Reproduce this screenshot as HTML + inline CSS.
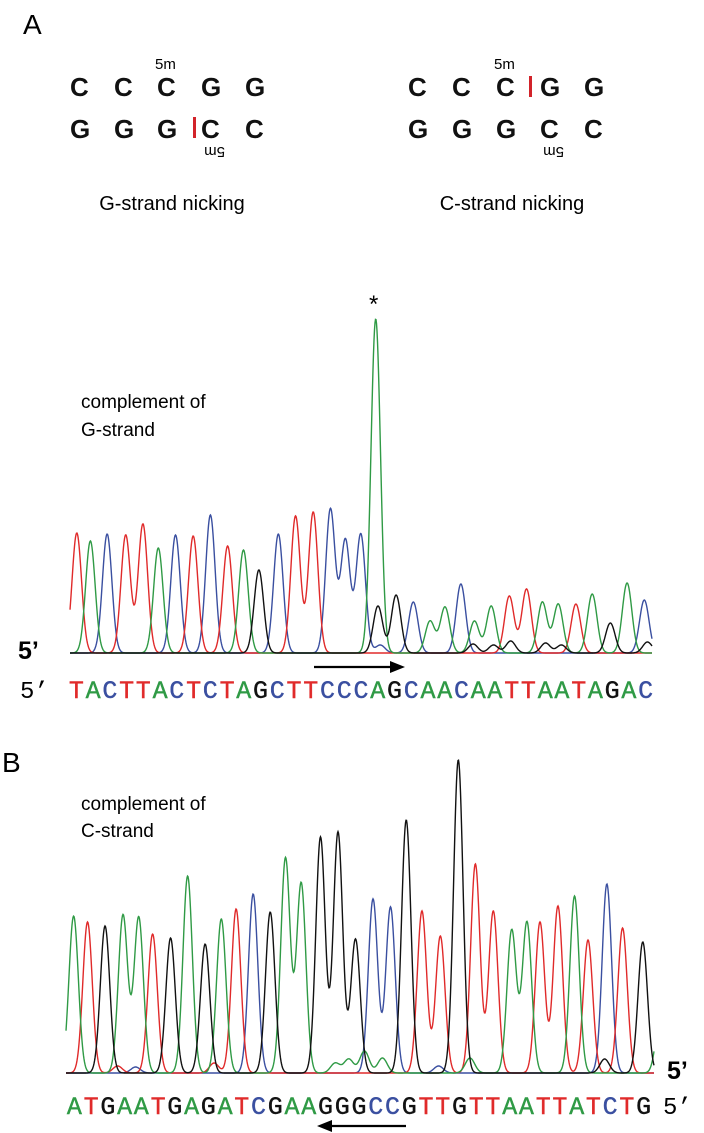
<!DOCTYPE html>
<html><head><meta charset="utf-8">
<style>
body{margin:0;background:#fff;}
svg{display:block;}
text{font-family:"Liberation Sans",sans-serif;}
.mono{font-family:"Liberation Mono",monospace;}
.nuc{font-family:"Liberation Sans",sans-serif;font-weight:bold;font-size:26px;fill:#111;}
</style></head>
<body>
<svg id="fig" width="704" height="1133" viewBox="0 0 704 1133">
  <text x="23" y="34" font-size="28">A</text>
  <g>
    <text x="155" y="69" font-size="15">5m</text>
    <text class="nuc" x="70" y="96">C</text><text class="nuc" x="114" y="96">C</text><text class="nuc" x="157" y="96">C</text><text class="nuc" x="201" y="96">G</text><text class="nuc" x="245" y="96">G</text>
    <text class="nuc" x="70" y="138">G</text><text class="nuc" x="114" y="138">G</text><text class="nuc" x="157" y="138">G</text><text class="nuc" x="201" y="138">C</text><text class="nuc" x="245" y="138">C</text>
    <rect x="193" y="117" width="3" height="21" fill="#d2232a"/>
    <text x="0" y="0" font-size="15" transform="translate(225,147) rotate(180)">5m</text>
    <text x="172" y="210" font-size="20" text-anchor="middle">G-strand nicking</text>
  </g>
  <g>
    <text x="494" y="69" font-size="15">5m</text>
    <text class="nuc" x="408" y="96">C</text><text class="nuc" x="452" y="96">C</text><text class="nuc" x="496" y="96">C</text><text class="nuc" x="540" y="96">G</text><text class="nuc" x="584" y="96">G</text>
    <text class="nuc" x="408" y="138">G</text><text class="nuc" x="452" y="138">G</text><text class="nuc" x="496" y="138">G</text><text class="nuc" x="540" y="138">C</text><text class="nuc" x="584" y="138">C</text>
    <rect x="529" y="76" width="3" height="21" fill="#d2232a"/>
    <text x="0" y="0" font-size="15" transform="translate(564,147) rotate(180)">5m</text>
    <text x="512" y="210" font-size="20" text-anchor="middle">C-strand nicking</text>
  </g>

  <text x="369" y="312" font-size="24">*</text>
  <text x="81" y="408" font-size="19">complement of</text>
  <text x="81" y="436" font-size="19">G-strand</text>
  <text x="18" y="659" font-size="25" font-weight="bold">5’</text>
  <g id="traceA"></g>
  <g>
    <line x1="314" y1="667" x2="392" y2="667" stroke="#000" stroke-width="2.2"/>
    <polygon points="390,661 405,667 390,673" fill="#000"/>
  </g>
  <text class="mono" x="20" y="698" font-size="24">5’</text>
  <g id="seqA"></g>

  <text x="2" y="772" font-size="28">B</text>
  <text x="81" y="810" font-size="19">complement of</text>
  <text x="81" y="837" font-size="19">C-strand</text>
  <g id="traceB"></g>
  <text x="667" y="1079" font-size="25" font-weight="bold">5’</text>
  <g id="seqB"></g>
  <text class="mono" x="663" y="1114" font-size="24">5’</text>
  <g>
    <line x1="330" y1="1126" x2="406" y2="1126" stroke="#000" stroke-width="2.2"/>
    <polygon points="332,1120 317,1126 332,1132" fill="#000"/>
  </g>
</svg>
<script>
// Panel A data: scan positions, base colors, signal heights
const posA = [175,205,242,283,321,355,393,432,470,508,543,577,620,658,697,735,768,802,835,840,880,918,955,988,1023,1053,1090,1130,1168,1203,1238,1277,1313,1353,1390,1428, 1050,1095,1133,1210,1245,1435,845];
const baseA = ['T','A','C','T','T','A','C','T','C','T','A','G','C','T','T','C','C','C','A','G','G','C','A','A','C','A','A','T','T','A','A','T','A','G','A','C', 'G','G','G','G','G','G','C'];
const sigA = [120,112,119,118,129,105,118,117,138,107,103,83,119,137,141,144,113,119,334,47,58,51,32,46,69,32,47,57,64,51,49,49,59,30,70,53, 9,8,12,10,8,11,8];
// Panel B data
const posB = [162,193,232,272,307,338,378,416,455,491,524,562,600,634,669,712,751,790,829,868,903,938,979,1019,1057,1097,1138,1172,1201,1241,1278,1308,1350,1385,1430,1470, 260,300,475,745,775,810,850,1045,1345,975];
const baseB = ['A','T','G','A','A','T','G','A','G','A','T','C','G','A','A','G','G','G','C','C','G','T','T','G','T','T','A','A','T','T','A','T','C','T','G','A', 'T','C','T','A','A','A','A','A','G','C'];
const sigB = [157,151,147,158,156,139,135,197,129,154,164,179,161,215,190,236,241,134,174,166,253,162,137,313,209,162,143,151,151,167,177,133,189,145,131,60, 7,6,10,10,14,22,15,15,14,7];
const seqAstr = "TACTTACTCTAGCTTCCCAGCAACAATTAATAGAC";
const seqBstr = "ATGAATGAGATCGAAGGGCCGTTGTTAATTATCTG";

const COL = {A:'#2f9a45',C:'#3a4fa0',G:'#111111',T:'#e02a2a'};
const NS='http://www.w3.org/2000/svg';

function drawTrace(gid, pos, base, sig, s0, s1, x0, x1, y0, sigma, name){
  const g=document.getElementById(gid);
  const xS = s => x0 + (s-s0)*(x1-x0)/(s1-s0);
  const sInv = x => s0 + (x-x0)*(s1-s0)/(x1-x0);
  const yS = v => y0 - v;
  ['C','T','A','G'].forEach(b=>{
    let d='';
    for(let x=x0;x<=x1;x+=0.5){
      const s=sInv(x); let v=0;
      for(let i=0;i<pos.length;i++){ if(base[i]!==b) continue;
        const z=(s-pos[i])/sigma; v+=sig[i]*Math.exp(-0.5*z*z); }
      d+=(d?'L':'M')+x.toFixed(1)+','+yS(v).toFixed(1);
    }
    const p=document.createElementNS(NS,'path');
    p.setAttribute('d',d);p.setAttribute('fill','none');
    p.setAttribute('stroke',COL[b]);p.setAttribute('stroke-width','1.4');
    
    
    g.appendChild(p);
  });
}
drawTrace('traceA',posA,baseA,sigA,160,1445,70,652,653,10.5,'a');
drawTrace('traceB',posB,baseB,sigB,145,1455,66,654,1073,10.5,'b');

function drawSeq(gid, str, x0, x1, y, name){
  const g=document.getElementById(gid);
  const step=(x1-x0)/str.length;
  for(let i=0;i<str.length;i++){
    const t=document.createElementNS(NS,'text');
    t.setAttribute('x',(x0+step*(i+0.5)).toFixed(1));
    t.setAttribute('y',y);
    t.setAttribute('text-anchor','middle');
    t.setAttribute('class','mono');
    t.setAttribute('font-size','25');
    t.setAttribute('fill',COL[str[i]]);
    t.setAttribute('stroke',COL[str[i]]);
    t.setAttribute('stroke-width','0.4');
    t.textContent=str[i];
    
    
    g.appendChild(t);
  }
}
drawSeq('seqA',seqAstr,68,654,698,'seq-a');
drawSeq('seqB',seqBstr,66,652,1114,'seq-b');
</script>
</body></html>
